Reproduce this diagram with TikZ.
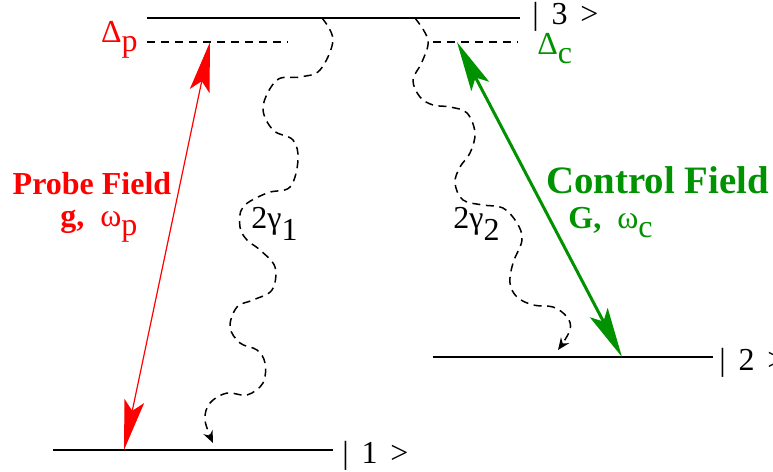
\documentclass[tikz,border=0pt]{standalone}
\usepackage{fontspec}
\setmainfont{Liberation Serif}
\newfontfamily\timesrm{Liberation Serif}
\usepackage{xcolor}
\usetikzlibrary{arrows.meta,calc,positioning}
\definecolor{probered}{RGB}{255,0,0}
\definecolor{ctrlgreen}{RGB}{0,146,0}
\newcommand{\lsub}[1]{\raisebox{-0.3em}{#1}}
\tikzset{
  lvl/.style={line width=1.1pt},
  detun/.style={line width=0.8pt, dash pattern=on 4pt off 3pt},
  decay/.style={line width=0.75pt, dash pattern=on 4pt off 2.8pt, -{Stealth[length=6pt,width=5pt]}},
  lbl/.style={inner sep=0pt, font=\timesrm\fontsize{16}{18}\selectfont},
  bighead/.tip={Stealth[length=25pt,width=10pt,inset=5pt]},
  every picture/.style={line cap=butt, line join=round}
}
\begin{document}
\begin{tikzpicture}[x=0.5pt,y=-0.5pt]
  \useasboundingbox (0,0) rectangle (773,472);

  \coordinate (t3w) at (147,18);
  \coordinate (t3e) at (520,18);
  \coordinate (dpw) at (147,42);
  \coordinate (dpe) at (288,42);
  \coordinate (dcw) at (433,42);
  \coordinate (dce) at (518,42);
  \coordinate (g1w) at (53,450);
  \coordinate (g1e) at (333,450);
  \coordinate (g2w) at (433,357);
  \coordinate (g2e) at (713,357);

  \draw[lvl] (t3w) -- (t3e);
  \draw[lvl] (g1w) -- (g1e);
  \draw[lvl] (g2w) -- (g2e);
  \draw[detun] (dpw) -- (dpe);
  \draw[detun] (dcw) -- (dce);

  \node[lbl, anchor=base west] (k3) at (532,24) {|\hspace{0.15em} 3\hspace{0.15em} >};
  \node[lbl, anchor=base west] (k1) at (342,463) {|\hspace{0.15em} 1\hspace{0.15em} >};
  \node[lbl, anchor=base west] (k2) at (719,370) {|\hspace{0.15em} 2\hspace{0.15em} >};

  \node[lbl, probered, anchor=base east] (dp) at (138,42) {Δ\lsub{p}};
  \node[lbl, ctrlgreen, anchor=base west] (dc) at (537,54) {Δ\lsub{c}};

  \coordinate (pa) at (124,450);
  \coordinate (pb) at (210,42);
  \coordinate (ca) at (457,42);
  \coordinate (cb) at (622,357);
  \draw[probered, line width=0.6pt, bighead-bighead] (pa) -- (pb);
  \draw[ctrlgreen, line width=1.5pt, bighead-bighead] (ca) -- (cb);

  \node[lbl, probered, anchor=base] (probe) at (92,194) {\textbf{Probe Field}};
  \node[lbl, probered, anchor=base west] (probesym) at (60,226) {\textbf{g,}\ \ ω\lsub{p}};
  \node[lbl, ctrlgreen, anchor=base west, font=\timesrm\fontsize{19.4}{22}\selectfont] (ctrl) at (546,193) {\textbf{Control Field}};
  \node[lbl, ctrlgreen, anchor=base west] (ctrlsym) at (568,228) {\textbf{G,}\ \ ω\lsub{c}};

  \draw[decay] plot[smooth, tension=0.6] coordinates {(322,18) (333,40) (320,70) (300,77)
    (277,80) (263,107) (273,130) (293,140) (298,160) (290,187) (267,193) (243,207)
    (240,227) (247,240) (260,250) (275,267) (272,290) (253,300) (237,307) (230,327)
    (240,343) (257,350) (265,363) (263,383) (247,395) (227,393) (210,403) (205,420) (213,443)};
  \draw[decay] plot[smooth, tension=0.6] coordinates {(415,18) (428,40) (422,62) (413,80)
    (420,97) (433,105) (450,107) (467,113) (475,133) (470,153) (460,167) (455,183)
    (463,200) (483,205) (503,208) (517,223) (522,240) (513,263) (510,283) (517,297)
    (533,305) (553,307) (567,317) (570,330) (558,350)};

  \node[lbl, anchor=base west] (gam1) at (251,228) {2γ\raisebox{-0.4em}{1}};
  \node[lbl, anchor=base west] (gam2) at (453,228) {2γ\raisebox{-0.4em}{2}};
\end{tikzpicture}
\end{document}
